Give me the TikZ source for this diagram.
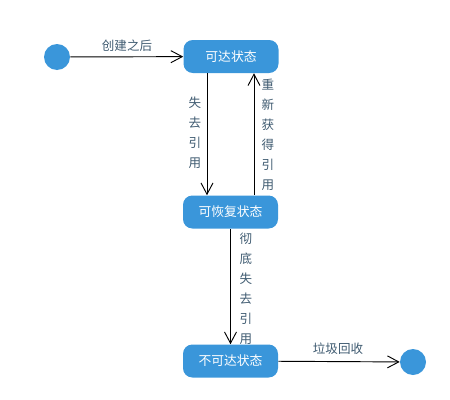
\documentclass[tikz,border=0pt]{standalone}
\usepackage{fontspec}
\setmainfont{Noto Sans CJK SC}
\usetikzlibrary{arrows.meta}
\definecolor{stblue}{HTML}{3A96DA}
\definecolor{lbl}{HTML}{3E5A70}
\begin{document}
\begin{tikzpicture}[x=0.75pt,y=-0.75pt,
  state/.style={draw=none,fill=stblue,rounded corners=7pt,minimum width=71.25pt,minimum height=24.75pt,text=white,font=\fontsize{9.6pt}{11pt}\selectfont,inner sep=0pt},
  dot/.style={circle,fill=stblue,minimum size=19.5pt,inner sep=0pt},
  conn/.style={draw=black,line width=0.7pt,-{Straight Barb[length=8.5pt,width=9pt,line width=0.7pt]}},
  lab/.style={text=lbl,font=\fontsize{9.4pt}{11pt}\selectfont,inner sep=0pt},
  vlab/.style={text=lbl,font=\fontsize{9.4pt}{15pt}\selectfont,align=center,inner sep=0pt}]
\useasboundingbox (0,0) rectangle (450,400);
\node[dot] (s) at (57,57) {};
\node[state] (a) at (231,56.5) {可达状态};
\node[state] (b) at (230.5,212) {可恢复状态};
\node[state] (c) at (230.5,361) {不可达状态};
\node[dot] (e) at (413,362) {};
\draw[conn] (s) -- (a);
\node[lab] (l1) at (127,46) {创建之后};
\coordinate (a1) at (207,0);
\coordinate (a2) at (254,0);
\draw[conn] (a.south -| a1) -- (b.north -| a1);
\draw[conn] (b.north -| a2) -- (a.south -| a2);
\node[vlab] (l2) at (195,133) {失\\去\\引\\用};
\node[vlab] (l3) at (268,135) {重\\新\\获\\得\\引\\用};
\draw[conn] (b) -- (c);
\node[vlab] (l4) at (246,289) {彻\\底\\失\\去\\引\\用};
\draw[conn] (c) -- (e);
\node[lab] (l5) at (338,349) {垃圾回收};
\end{tikzpicture}
\end{document}
